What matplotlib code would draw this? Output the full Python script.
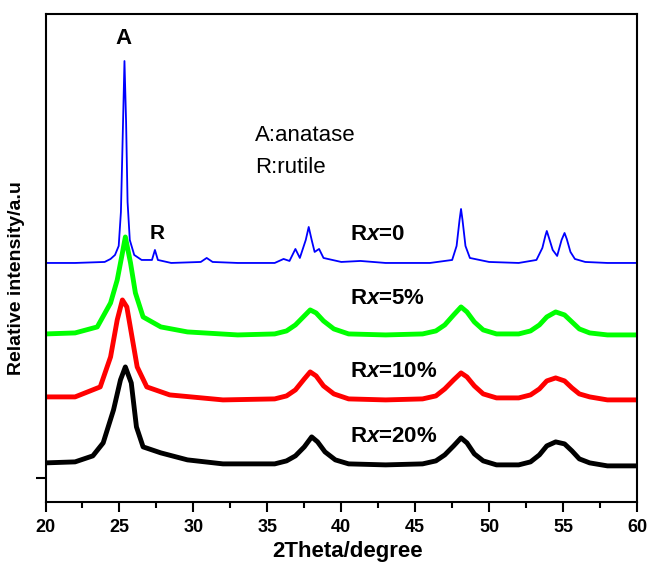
import matplotlib
matplotlib.use('Agg')
import matplotlib.pyplot as plt

plt.rcParams['font.family'] = ['Liberation Sans', 'DejaVu Sans']
plt.rcParams['mathtext.fontset'] = 'custom'
plt.rcParams['mathtext.rm'] = 'Liberation Sans:bold'
plt.rcParams['mathtext.it'] = 'Liberation Sans:italic:bold'

# Rx=0 (blue), stacked intensity, arbitrary units
x_b = [20, 22, 24, 24.4, 24.7, 24.95, 25.1, 25.2, 25.34, 25.45, 25.55, 25.7, 26.0,
       26.5, 27.2, 27.4, 27.6, 28.5, 30.5, 30.9, 31.3, 33, 35.5,
       36.1, 36.5, 36.9, 37.2, 37.6, 37.8, 38.0, 38.2, 38.5, 38.8, 40, 41.3,
       43, 46, 47.5, 47.8, 48.0, 48.1, 48.2, 48.4, 48.7, 50, 52, 53.2,
       53.6, 53.8, 53.9, 54.05, 54.3, 54.6, 54.9, 55.1, 55.25, 55.5, 55.8, 56.5, 58, 60]
y_b = [239, 239, 240, 243, 247, 256, 290, 352, 441, 380, 300, 262, 247,
       242, 242, 252, 242, 239, 240, 244, 240, 239, 239,
       243, 241, 253, 244, 262, 275, 262, 250, 253, 244, 240, 241,
       239, 239, 242, 256, 282, 293, 282, 256, 244, 240, 239, 242,
       254, 266, 271, 264, 252, 246, 262, 269, 263, 250, 243, 240, 239, 239]

# Rx=5% (green)
x_g = [20, 22, 23.5, 24.4, 24.85, 25.2, 25.4, 25.75, 26.08, 26.6,
       27.8, 29.6, 33, 35.5, 36.3, 36.9, 37.5, 37.9, 38.3, 38.8,
       39.5, 40.5, 43, 45.5, 46.4, 47.0, 47.6, 48.1, 48.5, 49.0,
       49.6, 50.5, 52, 52.8, 53.4, 53.9, 54.5, 55.1, 55.6, 56.1,
       56.8, 58, 60]
y_g = [168, 169, 175, 199, 222, 249, 265, 239, 209, 185,
       175, 170, 167, 168, 171, 177, 186, 192, 189, 181,
       173, 168, 167, 168, 171, 177, 187, 195, 190, 180,
       172, 168, 168, 171, 177, 185, 190, 187, 180, 173,
       169, 167, 167]

# Rx=10% (red)
x_r = [20, 22, 23.7, 24.4, 24.85, 25.2, 25.5, 25.85, 26.2, 26.85,
       28.4, 32, 35.5, 36.3, 36.9, 37.5, 37.9, 38.3, 38.8,
       39.5, 40.5, 43, 45.5, 46.4, 47.0, 47.6, 48.1, 48.5, 49.0,
       49.6, 50.5, 52, 52.8, 53.4, 53.9, 54.5, 55.1, 55.6, 56.1,
       56.8, 58, 60]
y_r = [105, 105, 115, 145, 182, 202, 195, 165, 135, 115,
       107, 102, 103, 106, 112, 123, 130, 126, 116,
       108, 103, 102, 103, 106, 113, 122, 129, 125, 116,
       108, 104, 104, 107, 113, 121, 124, 121, 114, 108,
       105, 102, 102]

# Rx=20% (black)
x_k = [20, 22, 23.2, 23.9, 24.6, 25.07, 25.4, 25.8, 26.15, 26.6,
       27.8, 29.6, 32, 35.5, 36.3, 36.9, 37.5, 38.0, 38.4, 38.9,
       39.6, 40.5, 43, 45.5, 46.4, 47.0, 47.6, 48.1, 48.5, 49.0,
       49.6, 50.5, 52, 52.8, 53.4, 53.9, 54.5, 55.1, 55.6, 56.1,
       56.8, 58, 60]
y_k = [39, 40, 46, 59, 92, 122, 135, 119, 75, 55,
       49, 42, 38, 38, 41, 46, 55, 65, 60, 50,
       42, 38, 37, 38, 41, 47, 56, 64, 59, 48,
       41, 37, 37, 40, 47, 56, 60, 58, 51, 43,
       39, 36, 36]

labels = ['R$\\mathit{x}$=0', 'R$\\mathit{x}$=5%', 'R$\\mathit{x}$=10%', 'R$\\mathit{x}$=20%']
label_y = [267, 203, 130, 65]

fig = plt.figure(figsize=(6.5, 5.62), dpi=100)
ax = fig.add_axes([0.07, 0.107, 0.91, 0.868])

ax.plot(x_b, y_b, color='#0000ff', lw=1.3)
ax.plot(x_g, y_g, color='#00ff00', lw=3.5, solid_joinstyle='round')
ax.plot(x_r, y_r, color='#ff0000', lw=3.5, solid_joinstyle='round')
ax.plot(x_k, y_k, color='black', lw=3.5, solid_joinstyle='round')

ax.set_xlim(20, 60)
ax.set_ylim(0, 488)
ax.set_xticks(range(20, 61, 5))
ax.set_xticks([22.5 + 5 * i for i in range(8)], minor=True)
ax.set_yticks([24])
ax.set_yticklabels([])
ax.tick_params(axis='x', which='major', direction='out', length=7, width=1.5,
               labelsize=13, pad=5)
ax.tick_params(axis='x', which='minor', direction='out', length=4, width=1.5)
ax.tick_params(axis='y', direction='out', length=7, width=1.5)
for lab in ax.get_xticklabels():
    lab.set_fontweight('bold')
for sp in ax.spines.values():
    sp.set_linewidth(1.5)

ax.text(25.3, 464, 'A', ha='center', va='center', fontsize=16, fontweight='bold')
ax.text(27.55, 268, 'R', ha='center', va='center', fontsize=15, fontweight='bold')
ax.text(34.16, 367, 'A:anatase', ha='left', va='center', fontsize=16)
ax.text(34.16, 334, 'R:rutile', ha='left', va='center', fontsize=16)
for lab, yy in zip(labels, label_y):
    ax.text(40.6, yy, lab, ha='left', va='center', fontsize=16, fontweight='bold')

fig.text(0.534, 0.018, '2Theta/degree', ha='center', va='center',
         fontsize=16, fontweight='bold')
fig.text(0.026, 0.505, 'Relative intensity/a.u', ha='center', va='center',
         rotation=90, fontsize=14, fontweight='bold')

fig.savefig('out.png', dpi=100)
